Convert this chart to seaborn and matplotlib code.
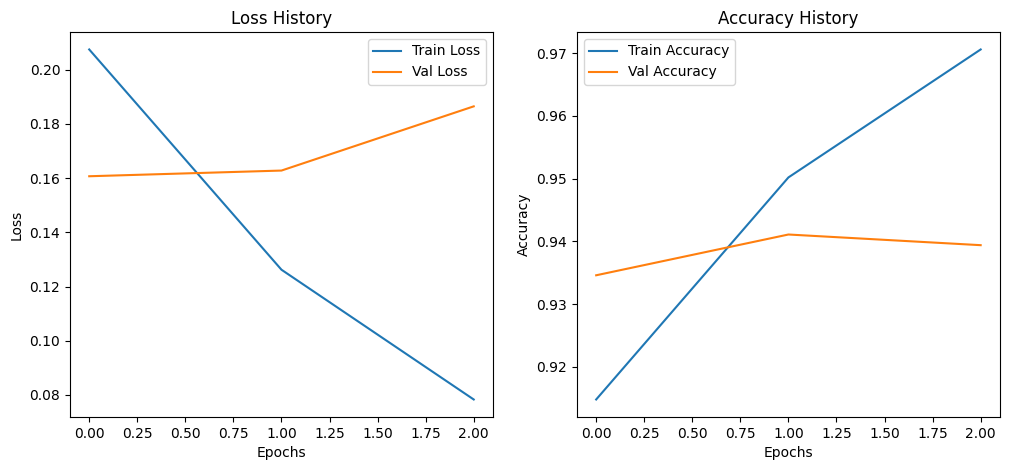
import pandas as pd
import matplotlib
matplotlib.use('Agg')
import matplotlib.pyplot as plt
import seaborn as sns

# --- Du lieu doc tu hinh ---
epochs = [0, 1, 2]
train_loss = [0.2075, 0.1262, 0.0783]
val_loss = [0.1607, 0.1628, 0.1865]
train_acc = [0.9148, 0.9502, 0.9706]
val_acc = [0.9346, 0.9411, 0.9394]

df = pd.DataFrame({
    'epoch': epochs,
    'train_loss': train_loss,
    'val_loss': val_loss,
    'train_acc': train_acc,
    'val_acc': val_acc,
})

fig, axes = plt.subplots(1, 2, figsize=(10.1, 4.7), dpi=100)
fig.subplots_adjust(left=0.0693, right=0.990, bottom=0.1128, top=0.932, wspace=0.1986)

# Loss
ax = axes[0]
sns.lineplot(data=df, x='epoch', y='train_loss', ax=ax, label='Train Loss', color='#1f77b4')
sns.lineplot(data=df, x='epoch', y='val_loss', ax=ax, label='Val Loss', color='#ff7f0e')
ax.set_title('Loss History')
ax.set_xlabel('Epochs')
ax.set_ylabel('Loss')
ax.legend(loc='upper right')

# Accuracy
ax = axes[1]
sns.lineplot(data=df, x='epoch', y='train_acc', ax=ax, label='Train Accuracy', color='#1f77b4')
sns.lineplot(data=df, x='epoch', y='val_acc', ax=ax, label='Val Accuracy', color='#ff7f0e')
ax.set_title('Accuracy History')
ax.set_xlabel('Epochs')
ax.set_ylabel('Accuracy')
ax.legend(loc='upper left')

plt.savefig('out.png')
plt.close()
